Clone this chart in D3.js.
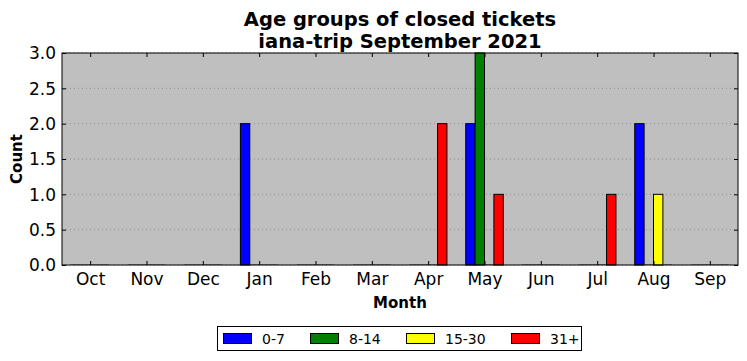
<!DOCTYPE html>
<html><head><meta charset="utf-8">
<script src="https://cdn.jsdelivr.net/npm/d3@7"></script>
<style>body{margin:0;background:#fff}svg{display:block}text{font-family:"DejaVu Sans",sans-serif}</style>
</head><body><svg id="c" width="747" height="361"></svg>
<script>
const months = ["Oct","Nov","Dec","Jan","Feb","Mar","Apr","May","Jun","Jul","Aug","Sep"];
const seriesNames = ["0-7","8-14","15-30","31+"];
const seriesColors = ["#0000ff","#008000","#ffff00","#ff0000"];
const s0_7   = [0,0,0,2,0,0,0,2,0,0,2,0];
const s8_14  = [0,0,0,0,0,0,0,3,0,0,0,0];
const s15_30 = [0,0,0,0,0,0,0,0,0,0,1,0];
const s31    = [0,0,0,0,0,0,2,1,0,1,0,0];
const yTicks = [0,0.5,1,1.5,2,2.5,3];
const series = [s0_7, s8_14, s15_30, s31];

const svg = d3.select("#c");
const L=62, R=738, T=53, B=265;
const x = d3.scaleLinear().domain([-0.5, 11.5]).range([L, R]);
const y = d3.scaleLinear().domain([0, 3]).range([B, T]);
const w = 1/6;

svg.append("rect").attr("x",L).attr("y",T).attr("width",R-L).attr("height",B-T).attr("fill","#bfbfbf");

// grid
svg.append("g").selectAll("line").data(yTicks).join("line")
  .attr("x1",L).attr("x2",R).attr("y1",d=>y(d)).attr("y2",d=>y(d))
  .attr("stroke","#808080").attr("stroke-width",0.8).attr("stroke-dasharray","1,3");

// bars
series.forEach((vals,k)=>{
  const g = svg.append("g");
  vals.forEach((v,i)=>{
    const x0 = x(i + (k-2)*w), x1 = x(i + (k-1)*w);
    if (v>0) {
      g.append("rect").attr("x",x0).attr("y",y(v)).attr("width",x1-x0).attr("height",y(0)-y(v))
        .attr("fill",seriesColors[k]).attr("stroke","#000").attr("stroke-width",1);
    } else {
      g.append("line").attr("x1",x0).attr("x2",x1).attr("y1",y(0)-0.5).attr("y2",y(0)-0.5)
        .attr("stroke","#555").attr("stroke-width",0.6);
    }
  });
});

// axes
const xa = svg.append("g").attr("transform",`translate(0,${B})`)
  .call(d3.axisBottom(x).tickValues(d3.range(12)).tickFormat(i=>months[i]).tickSizeInner(-4).tickSizeOuter(0).tickPadding(8));
const xt = svg.append("g").attr("transform",`translate(0,${T})`)
  .call(d3.axisTop(x).tickValues(d3.range(12)).tickFormat("").tickSizeInner(-4).tickSizeOuter(0));
const ya = svg.append("g").attr("transform",`translate(${L},0)`)
  .call(d3.axisLeft(y).tickValues(yTicks).tickFormat(d3.format(".1f")).tickSizeInner(-4).tickSizeOuter(0).tickPadding(6));
const yr = svg.append("g").attr("transform",`translate(${R},0)`)
  .call(d3.axisRight(y).tickValues(yTicks).tickFormat("").tickSizeInner(-4).tickSizeOuter(0));
[xa,xt,ya,yr].forEach(a=>{a.select(".domain").remove(); a.selectAll("line").attr("stroke","#000");});
xa.selectAll("text").attr("font-size",17).attr("fill","#000");
ya.selectAll("text").attr("font-size",17).attr("fill","#000").attr("dy","0.35em");

svg.append("rect").attr("x",L).attr("y",T).attr("width",R-L).attr("height",B-T)
  .attr("fill","none").attr("stroke","#000").attr("stroke-width",1);

// titles
svg.append("text").attr("x",(L+R)/2).attr("y",26).attr("text-anchor","middle").attr("font-size",19.5).attr("font-weight","bold").text("Age groups of closed tickets");
svg.append("text").attr("x",(L+R)/2).attr("y",48).attr("text-anchor","middle").attr("font-size",19.5).attr("font-weight","bold").text("iana-trip September 2021");
svg.append("text").attr("x",(L+R)/2).attr("y",308).attr("text-anchor","middle").attr("font-size",15).attr("font-weight","bold").text("Month");
svg.append("text").attr("transform",`translate(22,${(T+B)/2}) rotate(-90)`).attr("text-anchor","middle").attr("font-size",15).attr("font-weight","bold").text("Count");

// legend
svg.append("rect").attr("x",217.5).attr("y",326.5).attr("width",364).attr("height",24).attr("fill","#fff").attr("stroke","#000");
const lx = [223, 310, 406, 511];
seriesNames.forEach((n,k)=>{
  svg.append("rect").attr("x",lx[k]+0.5).attr("y",333.5).attr("width",28).attr("height",10).attr("fill",seriesColors[k]).attr("stroke","#000");
  svg.append("text").attr("x",lx[k]+39).attr("y",343.5).attr("font-size",14).text(n);
});
</script></body></html>
